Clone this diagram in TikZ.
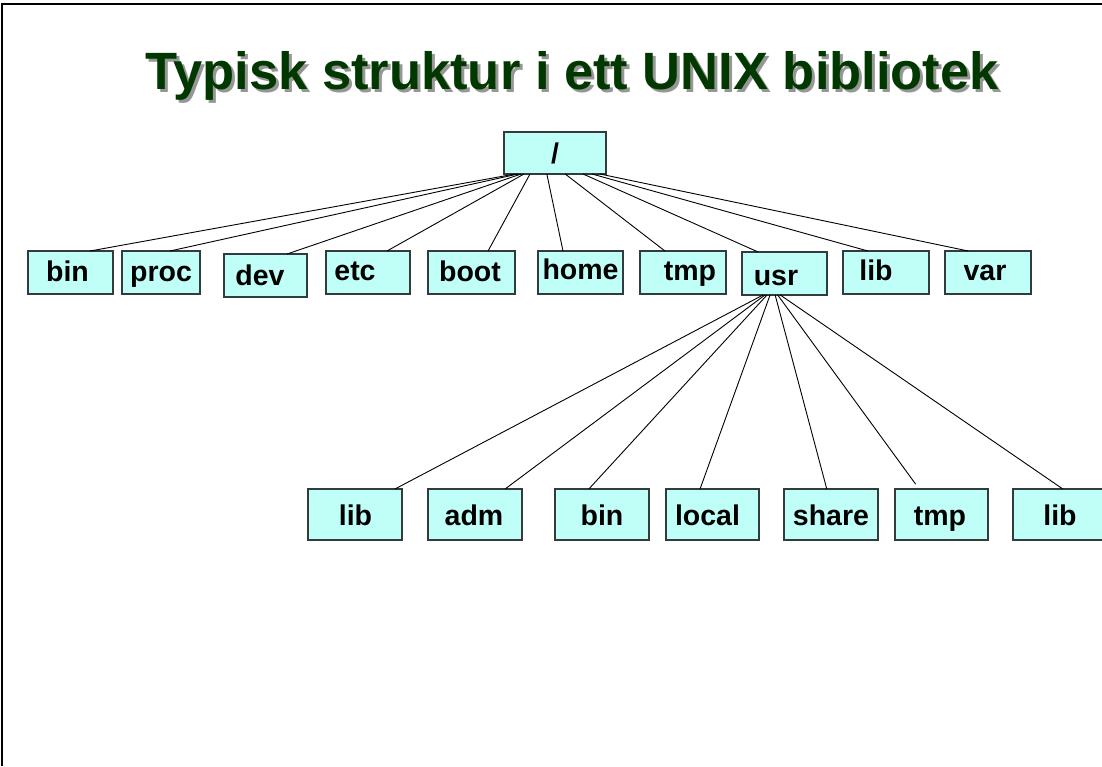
\documentclass[tikz,border=0pt]{standalone}
\usepackage{fontspec}
\setmainfont{Liberation Sans}
\usetikzlibrary{calc}
\definecolor{boxfill}{RGB}{192,255,247}
\definecolor{boxedge}{RGB}{50,60,60}
\definecolor{titlegreen}{RGB}{0,56,0}
\definecolor{shadowgrey}{RGB}{150,150,150}
\begin{document}
\begin{tikzpicture}[x=1pt,y=-1pt,
  dirbox/.style={draw=boxedge, fill=boxfill, line width=1.3pt, inner sep=0pt, outer sep=0pt, anchor=north west},
  topbox/.style={dirbox, minimum width=#1pt, minimum height=43pt},
  lowbox/.style={dirbox, minimum width=#1pt, minimum height=51pt},
  lbl/.style={font=\fontsize{28.5}{31}\selectfont\bfseries, anchor=base, inner sep=0pt},
  titletext/.style={font=\fontsize{52.5}{60}\selectfont\bfseries, anchor=base, inner sep=0pt},
  link/.style={line width=0.9pt, black}]
\useasboundingbox (0,0) rectangle (1102,766);
\clip (0,0) rectangle (1102,766);

% page frame (top and left edges)
\draw[line width=2pt] (1102,4) -- (2,4) -- (2,766);

% heading with drop shadow
\node[titletext, text=shadowgrey] (titleshadow) at (575,92) {Typisk struktur i ett UNIX bibliotek};
\node[titletext, text=titlegreen] (title) at (572,89) {Typisk struktur i ett UNIX bibliotek};

% root directory
\node[dirbox, minimum width=102pt, minimum height=42pt] (root) at (504,132) {};
\node[lbl] (troot) at (555,163) {/};

% first level
\node[topbox=85] (bin)  at (28,251) {};
\node[topbox=78] (proc) at (122,251) {};
\node[topbox=83] (dev)  at (224,254) {};
\node[topbox=84] (etc)  at (326,251) {};
\node[topbox=87] (boot) at (428,251) {};
\node[topbox=85] (home) at (538,251) {};
\node[topbox=86] (tmp)  at (640,251) {};
\node[topbox=85] (usr)  at (742,252) {};
\node[topbox=86] (lib)  at (843,251) {};
\node[topbox=86] (var)  at (945,251) {};

\node[lbl] (tbin)  at (67.5,281) {bin};
\node[lbl] (tproc) at (161,281) {proc};
\node[lbl] (tdev)  at (260,285) {dev};
\node[lbl] (tetc)  at (355,280) {etc};
\node[lbl] (tboot) at (470,281) {boot};
\node[lbl] (thome) at (580.5,279) {home};
\node[lbl] (ttmp)  at (690,280) {tmp};
\node[lbl] (tusr)  at (776,285) {usr};
\node[lbl] (tlib)  at (876,280) {lib};
\node[lbl] (tvar)  at (985,280) {var};

% second level under usr
\node[lowbox=94] (ulib)   at (308,489) {};
\node[lowbox=94] (uadm)   at (428,489) {};
\node[lowbox=94] (ubin)   at (555,489) {};
\node[lowbox=93] (ulocal) at (666,489) {};
\node[lowbox=94] (ushare) at (784,489) {};
\node[lowbox=93] (utmp)   at (895,489) {};
\node[lowbox=94] (ulib2)  at (1013,489) {};

\node[lbl] (tulib)   at (355.5,525) {lib};
\node[lbl] (tuadm)   at (474,525) {adm};
\node[lbl] (tubin)   at (602,525) {bin};
\node[lbl] (tulocal) at (707.5,525) {local};
\node[lbl] (tushare) at (831,525) {share};
\node[lbl] (tutmp)   at (940,525) {tmp};
\node[lbl] (tulib2)  at (1060,525) {lib};

% links from the root
\foreach \s/\n/\e in {0.108/bin/0.73, 0.137/proc/0.615, 0.167/dev/0.76, 0.196/etc/0.726,
                      0.255/boot/0.69, 0.42/home/0.294, 0.60/tmp/0.29, 0.775/usr/0.19,
                      0.863/lib/0.29, 0.94/var/0.27}
  \draw[link] ($(root.south west)!\s!(root.south east)$) -- ($(\n.north west)!\e!(\n.north east)$);

% links from usr
\foreach \s/\n/\e in {0.247/ulib/0.925, 0.27/uadm/0.82, 0.294/ubin/0.36, 0.33/ulocal/0.366,
                      0.39/ushare/0.455, 0.45/ulib2/0.53}
  \draw[link] ($(usr.south west)!\s!(usr.south east)$) -- ($(\n.north west)!\e!(\n.north east)$);
\draw[link, shorten >=6pt] ($(usr.south west)!0.42!(usr.south east)$) -- ($(utmp.north west)!0.26!(utmp.north east)$);
\end{tikzpicture}
\end{document}
